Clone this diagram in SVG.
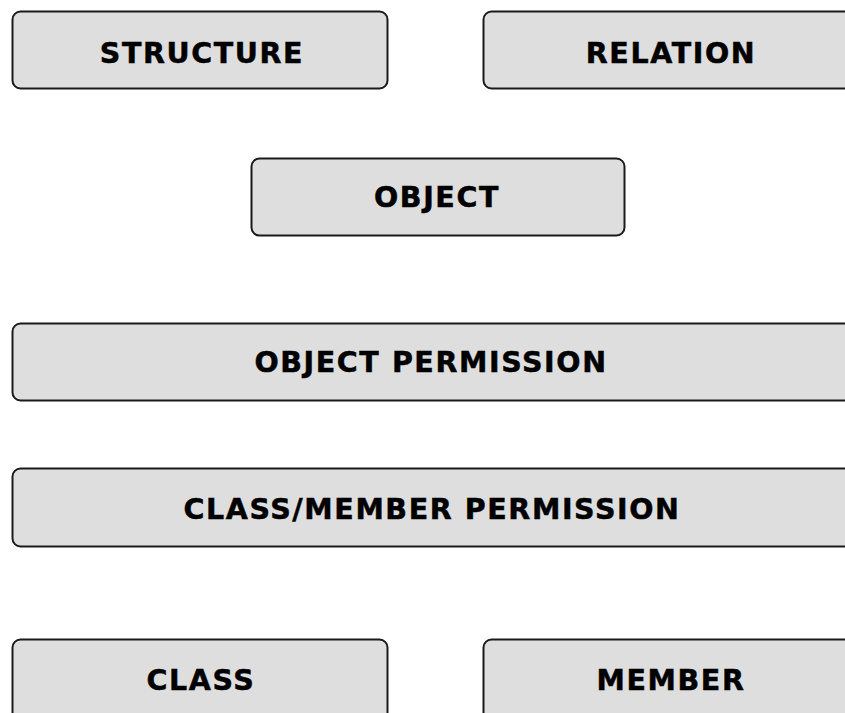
<svg xmlns="http://www.w3.org/2000/svg" width="845" height="713" viewBox="0 0 845 713">
<style>
.box{fill:#dedede;stroke:#1a1a1a;stroke-width:2}
.lbl{font-family:"DejaVu Sans",Verdana,sans-serif;font-weight:bold;font-size:28.5px;letter-spacing:1.6px;fill:#000;stroke:#000;stroke-width:0.5;text-anchor:middle}
</style>
<rect width="845" height="713" fill="#fff"/>
<g id="structure"><rect class="box" x="12.5" y="11.5" width="375" height="77" rx="8"/><text class="lbl" x="202" y="63">STRUCTURE</text></g>
<g id="relation"><rect class="box" x="483.5" y="11.5" width="375" height="77" rx="8"/><text class="lbl" x="671" y="63">RELATION</text></g>
<g id="object"><rect class="box" x="251.5" y="158.5" width="373" height="77" rx="8"/><text class="lbl" x="437" y="207">OBJECT</text></g>
<g id="object-permission"><rect class="box" x="12.5" y="323.5" width="840" height="77" rx="8"/><text class="lbl" x="431" y="372">OBJECT PERMISSION</text></g>
<g id="class-member-permission"><rect class="box" x="12.5" y="468.5" width="840" height="78" rx="8"/><text class="lbl" x="432" y="519">CLASS/MEMBER PERMISSION</text></g>
<g id="class"><rect class="box" x="12.5" y="639.5" width="375" height="90" rx="8"/><text class="lbl" x="201" y="690">CLASS</text></g>
<g id="member"><rect class="box" x="483.5" y="639.5" width="375" height="90" rx="8"/><text class="lbl" x="671" y="690">MEMBER</text></g>
<g id="connectors"></g>
</svg>
